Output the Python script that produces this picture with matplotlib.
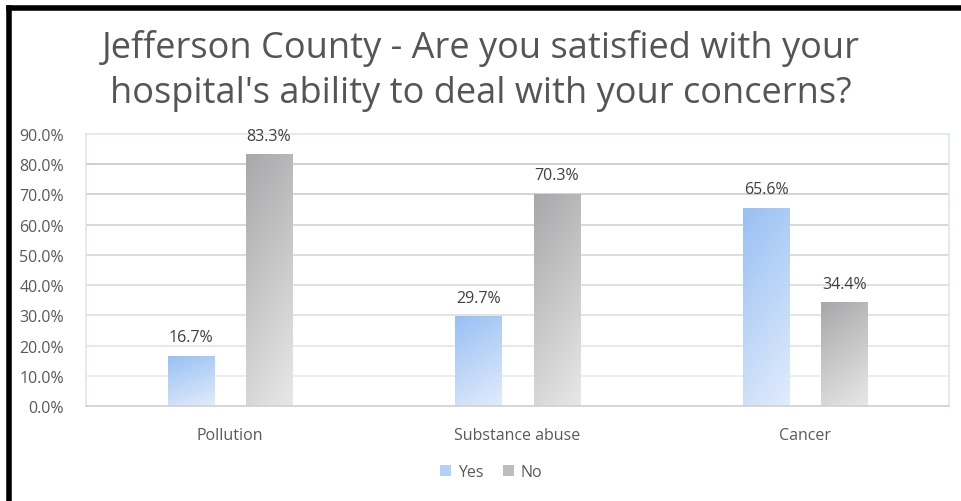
import numpy as np
import matplotlib
matplotlib.use("Agg")
import matplotlib.pyplot as plt
from matplotlib.patches import Rectangle
from matplotlib.lines import Line2D
from matplotlib.colors import LinearSegmentedColormap

# --- data ---
categories = ["Pollution", "Substance abuse", "Cancer"]
yes_vals = [16.7, 29.7, 65.6]
no_vals = [83.3, 70.3, 34.4]
series_names = ["Yes", "No"]
title = "Jefferson County - Are you satisfied with your\nhospital's ability to deal with your concerns?"

plt.rcParams["font.family"] = ["Open Sans", "DejaVu Sans"]

fig = plt.figure(figsize=(9.62, 5.02), dpi=100)
ax = fig.add_axes([86 / 962, 1 - 407 / 502, (949 - 86) / 962, (407 - 135) / 502])

yes_cmap = LinearSegmentedColormap.from_list("yes", ["#98c0f4", "#e2ecfc"])
no_cmap = LinearSegmentedColormap.from_list("no", ["#a8a8aa", "#e8e8e8"])

x = np.arange(len(categories))
width = 0.16
offset = 0.136


def gradient_bars(xpos, vals, cmap):
    # diagonal gradient (dark top-left -> light bottom-right), clipped to each bar
    gy, gx = np.mgrid[0:1:100j, 0:1:100j]
    grad = (gy + 0.35 * gx) / 1.35
    for xi, v in zip(xpos, vals):
        rect = Rectangle((xi - width / 2, 0), width, v, facecolor="none", edgecolor="none")
        ax.add_patch(rect)
        im = ax.imshow(grad, cmap=cmap, extent=(xi - width / 2, xi + width / 2, 0, v),
                       aspect="auto", zorder=2, interpolation="bilinear", origin="upper")
        im.set_clip_path(rect)
        ax.text(xi, v + 3.4, f"{v:.1f}%", ha="center", va="bottom",
                fontsize=11.5, color="#404040")


gradient_bars(x - offset, yes_vals, yes_cmap)
gradient_bars(x + offset, no_vals, no_cmap)

ax.set_xlim(-0.5, len(categories) - 0.5)
ax.set_ylim(0, 90)
yticks = np.arange(0, 91, 10)
ax.set_yticks(yticks)
ax.set_yticklabels([f"{t:.1f}%" for t in yticks], fontsize=11.5, color="#595959")
ax.set_xticks(x)
ax.set_xticklabels(categories, fontsize=11.5, color="#595959")
ax.tick_params(length=0)
ax.tick_params(axis="y", pad=16)
ax.tick_params(axis="x", pad=15)

# gridlines, darker toward the top like the original
for t in yticks[1:-1]:
    shade = 0.93 - 0.17 * (t / 80.0)
    ax.axhline(t, color=(shade, shade, shade), lw=1.1, zorder=1)

for side in ["left", "right", "top"]:
    ax.spines[side].set_color("#dbe6f3")
    ax.spines[side].set_linewidth(1.2)
ax.spines["bottom"].set_color("#d0d0d0")
ax.spines["bottom"].set_linewidth(1.2)

fig.text(0.5, 1 - 71 / 502, title, ha="center", va="center", fontsize=26,
         color="#555555", linespacing=1.32)

handles = [Rectangle((0, 0), 1, 1, facecolor="#b5d1f7", edgecolor="none"),
           Rectangle((0, 0), 1, 1, facecolor="#bdbdbd", edgecolor="none")]
fig.legend(handles, series_names, loc="center", bbox_to_anchor=(491 / 962, 1 - 473 / 502),
           ncol=2, frameon=False, fontsize=11.5, handlelength=0.7, handleheight=0.7,
           handletextpad=0.4, columnspacing=1.2, labelcolor="#595959")

# black frame on the left and top
fig.add_artist(Line2D([8.5 / 962, 8.5 / 962], [0, 1 - 8.5 / 502], color="black", lw=4,
                      solid_capstyle="projecting"))
fig.add_artist(Line2D([8.5 / 962, 1], [1 - 8.5 / 502, 1 - 8.5 / 502], color="black", lw=4,
                      solid_capstyle="projecting"))

fig.savefig("out.png", dpi=100)
